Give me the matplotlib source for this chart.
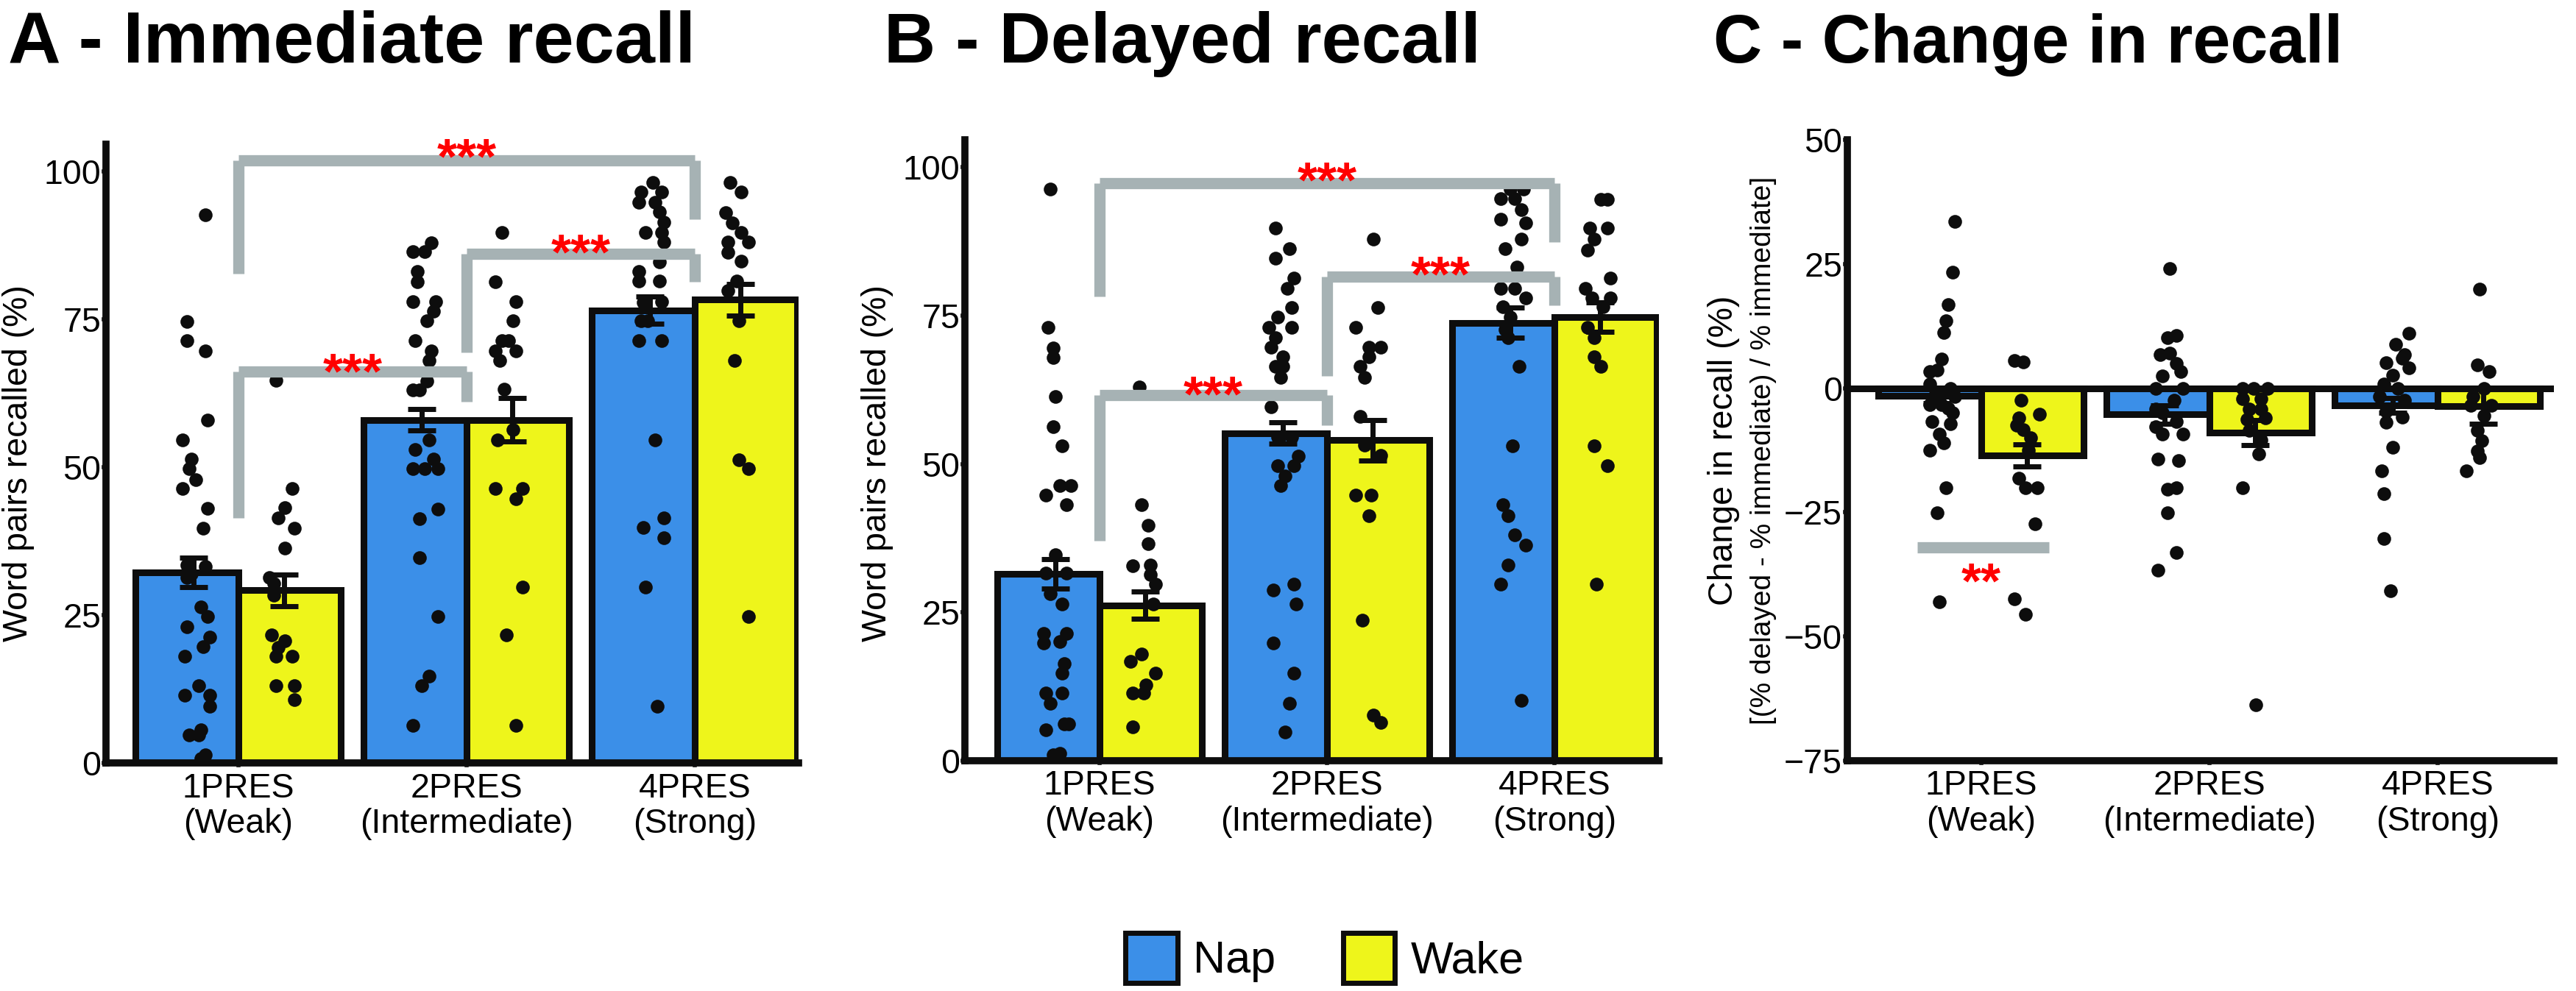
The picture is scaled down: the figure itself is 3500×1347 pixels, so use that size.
import numpy as np
import matplotlib
matplotlib.use('Agg')
import matplotlib.pyplot as plt
from matplotlib.patches import Patch

plt.rcParams['font.family'] = ['Liberation Sans', 'DejaVu Sans']

groups = ['1PRES\n(Weak)', '2PRES\n(Intermediate)', '4PRES\n(Strong)']

# bar heights (mean) and SEM
imm_nap = [32.2, 58.0, 76.5]
imm_nap_se = [2.5, 1.8, 2.3]
imm_wake = [29.2, 58.0, 78.3]
imm_wake_se = [2.7, 3.7, 2.7]

del_nap = [31.5, 55.2, 73.8]
del_nap_se = [2.5, 1.8, 2.6]
del_wake = [26.2, 54.0, 74.7]
del_wake_se = [2.3, 3.4, 2.5]

chg_nap = [-1.5, -5.3, -3.5]
chg_nap_se = [1.5, 1.8, 1.5]
chg_wake = [-13.5, -9.0, -3.6]
chg_wake_se = [2.2, 2.5, 3.6]

# individual subjects (values) and their horizontal jitter
imm_nap_pts = [
    [92.7, 74.6, 71.4, 69.7, 57.9, 54.6, 51.4, 49.7, 47.9, 46.4, 43.0, 39.7, 33.5, 33.2, 32.0, 31.4,
     26.4, 24.8, 23.0, 21.3, 19.7, 18.0, 13.0, 11.4, 11.4, 9.6, 5.6, 4.7, 4.7, 1.4, 0.7],
    [87.9, 86.4, 86.4, 83.1, 81.3, 78.0, 78.0, 76.4, 74.7, 71.4, 69.7, 68.0, 64.6, 63.0, 63.0, 54.6,
     53.0, 51.4, 49.7, 49.7, 49.7, 42.9, 41.3, 34.7, 24.8, 14.7, 13.0, 6.3],
    [98.1, 96.5, 96.5, 94.8, 94.8, 93.2, 91.4, 89.7, 89.7, 88.1, 84.7, 83.1, 81.5, 81.5, 78.0, 77.8,
     74.7, 74.7, 71.4, 71.4, 54.6, 41.4, 39.8, 38.0, 29.7, 9.6],
]
imm_nap_jit = [
    [.08, .00, .00, .08, .09, -.02, .02, .01, .04, -.02, .09, .07, .00, .08, .02, .00,
     .06, .09, .00, .10, .07, -.01, .05, -.01, .10, .10, .06, .01, .05, .08, .06],
    [.07, -.01, .04, .01, .01, -.01, .09, .08, .05, .00, .07, .06, .05, -.01, .02, .06,
     .00, .08, -.01, .04, .10, .10, .02, .02, .10, .06, .03, -.01],
    [.04, -.01, .08, -.02, .05, .07, .09, .01, .08, .09, .07, -.02, .07, -.02, .08, .00,
     -.01, .02, -.02, .08, .05, .09, .00, .09, .01, .06],
]
imm_wake_pts = [
    [64.7, 46.4, 43.1, 41.4, 39.7, 36.3, 31.4, 30.3, 28.3, 21.6, 20.6, 19.5, 18.0, 18.0, 13.0, 13.0, 10.7],
    [89.7, 81.3, 78.0, 74.7, 71.4, 71.4, 69.7, 69.7, 68.0, 63.2, 56.3, 54.6, 46.4, 46.4, 44.7, 29.7, 21.6, 6.3],
    [98.1, 96.5, 93.0, 91.3, 89.7, 88.1, 88.1, 86.3, 84.8, 81.5, 79.9, 74.7, 68.0, 51.3, 49.7, 24.8],
]
imm_wake_jit = [
    [-.06, .01, -.02, -.05, .02, -.02, -.09, -.07, -.07, -.08, -.02, -.05, -.06, .01, -.06, .02, .02],
    [-.07, -.10, -.01, -.02, -.07, -.04, -.10, -.01, -.08, -.06, -.02, -.09, -.10, .02, -.01, .02, -.05, -.01],
    [-.07, -.02, -.09, -.06, -.02, .01, -.08, -.08, -.02, -.04, -.08, -.03, -.05, -.03, .01, .01],
]

del_nap_pts = [
    [96.3, 73.0, 69.5, 67.9, 61.3, 56.3, 53.0, 46.4, 46.4, 44.7, 43.1, 34.7, 31.6, 31.6, 28.1,
     26.4, 21.4, 21.4, 20.1, 19.8, 16.3, 14.7, 11.4, 11.4, 9.7, 6.2, 6.2, 5.2, 1.3, 1.0],
    [89.7, 86.3, 84.7, 81.3, 79.6, 76.3, 74.7, 73.0, 73.0, 71.2, 69.6, 68.0, 66.4, 66.4, 64.6,
     59.6, 54.5, 54.5, 51.3, 49.7, 49.7, 48.0, 46.4, 29.7, 28.7, 26.4, 19.8, 14.7, 9.7, 4.8],
    [96.3, 96.3, 94.7, 94.7, 92.8, 91.2, 90.6, 87.9, 86.3, 83.1, 79.6, 79.6, 78.0, 76.5, 74.7,
     72.6, 71.2, 66.4, 53.0, 43.1, 41.3, 38.1, 36.3, 33.0, 29.7, 10.2],
]
del_nap_jit = [
    [.01, .00, .02, .02, .03, .02, .06, .05, .10, -.01, .08, .03, -.01, .08, .01,
     .06, -.02, .08, .05, -.02, .07, .06, -.01, .06, .01, .09, .07, -.01, .05, .02],
    [.00, .06, .00, .08, .05, .07, .01, -.03, .07, .00, -.02, .03, .00, .03, .02,
     -.02, .01, .07, .10, .01, .08, .04, .02, .08, -.01, .09, -.01, .08, .06, .04],
    [.03, .09, -.01, .05, .08, -.01, .10, .08, .01, .06, -.01, .05, .10, .00, .03,
     .01, .02, .07, .04, .00, .02, .05, .10, .02, -.01, .08],
]
del_wake_pts = [
    [62.9, 43.1, 39.7, 36.5, 33.0, 32.8, 31.4, 29.7, 26.4, 18.0, 16.7, 14.7, 12.8, 11.4, 11.4, 5.7],
    [87.9, 76.3, 73.0, 69.6, 69.6, 68.0, 66.4, 64.6, 58.0, 53.2, 51.4, 44.7, 44.7, 41.3, 23.7, 7.7, 6.4],
    [94.5, 94.5, 89.7, 89.7, 87.9, 86.0, 81.3, 79.6, 78.0, 78.0, 76.5, 73.0, 71.2, 68.0, 66.4, 53.0, 49.7, 29.7],
]
del_wake_jit = [
    [-.05, -.04, -.01, -.01, .00, -.08, .00, .02, .01, -.04, -.09, .02, -.02, -.08, -.03, -.08],
    [-.02, .00, -.10, -.04, .01, -.04, -.08, -.06, -.08, -.06, .01, -.10, -.03, -.04, -.07, -.02, .01],
    [-.02, .01, -.07, .01, -.05, -.08, .02, -.09, -.06, .02, -.01, -.08, -.05, -.05, -.02, -.05, .01, -.04],
]

chg_nap_pts = [
    [33.5, 23.3, 16.8, 13.5, 11.2, 5.8, 3.7, 3.3, 0.8, 0.0, -1.0, -1.7, -1.7, -2.5, -3.3, -3.3,
     -4.0, -5.0, -6.7, -7.1, -9.2, -11.0, -12.5, -20.0, -25.1, -43.0],
    [24.1, 10.6, 10.1, 7.0, 6.8, 5.0, 3.3, 2.5, 0.0, 0.0, -2.5, -4.2, -5.0, -6.7, -7.7, -9.2,
     -9.3, -14.3, -14.6, -20.0, -20.4, -25.1, -33.1, -36.6],
    [11.1, 8.9, 6.8, 6.0, 5.1, 4.1, 2.6, 0.9, 0.0, -1.7, -2.5, -4.6, -5.9, -6.8, -11.9, -16.6,
     -21.2, -30.3, -40.8],
]
chg_nap_jit = [
    [.11, .10, .08, .07, .06, .05, .03, .00, .00, .09, .05, .02, .11, .03, .00, .05,
     .08, .10, .01, .09, .04, .06, .00, .07, .03, .04],
    [.05, .08, .04, .05, .01, .08, .10, .02, -.01, .11, .07, -.01, .02, .08, -.01, .02,
     .11, .00, .09, .08, .04, .04, .08, .00],
    [.10, .04, .08, .07, .00, .10, .03, -.01, .05, -.03, .08, .00, .07, .00, .03, -.02,
     -.01, -.01, .02],
]
chg_wake_pts = [
    [5.6, 5.2, -2.5, -5.3, -6.0, -7.5, -8.3, -10.0, -12.5, -18.1, -20.0, -20.0, -27.3, -42.4, -45.5],
    [0.0, 0.0, 0.0, -2.1, -2.1, -4.2, -4.2, -6.3, -6.0, -8.5, -10.4, -13.3, -20.0, -63.8],
    [20.0, 4.7, 3.3, 0.0, -1.7, -3.4, -3.4, -5.5, -8.5, -10.6, -12.6, -14.0, -16.6],
]
chg_wake_jit = [
    [-.08, -.04, -.05, .03, -.06, -.07, -.04, -.01, -.02, -.06, -.03, .02, .01, -.08, -.03],
    [-.08, -.03, .03, -.08, .00, -.05, .00, -.06, .02, -.05, .00, -.01, -.08, -.02],
    [-.04, -.05, .00, -.02, -.07, -.08, .01, -.02, -.05, -.03, -.05, -.04, -.10],
]

# significance brackets: (x0, x1, y, leg0 bottom, leg1 bottom, star y)
imm_brackets = [(0, 2, 101.9, 82.7, 91.9, 104.7),
                (0, 1, 66.2, 41.4, 61.1, 68.4),
                (1, 2, 86.1, 69.4, 81.3, 88.6)]
del_brackets = [(0, 2, 97.3, 78.2, 87.4, 100.0),
                (0, 1, 61.6, 37.0, 56.5, 63.9),
                (1, 2, 81.6, 64.8, 76.7, 84.1)]

NAP = '#3B8FE8'
WAKE = '#EEF51B'
GREY = '#A6B2B4'
INK = '#0d0d0d'
W = 0.45
FS = 33.5
STAR_FS = 50

W_PX, H_PX = 3500, 1347
fig = plt.figure(figsize=(35, 13.47), dpi=100)


def axes_px(left, right, top, bottom):
    return fig.add_axes([left / W_PX, 1 - bottom / H_PX, (right - left) / W_PX, (bottom - top) / H_PX])


def draw_panel(ax, nap, nap_se, wake, wake_se, nap_pts, nap_jit, wake_pts, wake_jit):
    x = np.arange(len(groups))
    ax.bar(x - W / 2, nap, W, color=NAP, edgecolor=INK, linewidth=6.5, zorder=2)
    ax.bar(x + W / 2, wake, W, color=WAKE, edgecolor=INK, linewidth=6.5, zorder=2)
    for i in range(len(groups)):
        ax.scatter(i - W / 2 + np.array(nap_jit[i]), nap_pts[i], s=180, color=INK,
                   linewidths=0, zorder=3)
        ax.scatter(i + W / 2 + np.array(wake_jit[i]), wake_pts[i], s=180, color=INK,
                   linewidths=0, zorder=3)
    ax.errorbar(x - W / 2 + 0.03, nap, yerr=nap_se, fmt='none', ecolor=INK,
                elinewidth=5, capsize=14, capthick=5, zorder=4)
    ax.errorbar(x + W / 2 - 0.025, wake, yerr=wake_se, fmt='none', ecolor=INK,
                elinewidth=5, capsize=14, capthick=5, zorder=4)

    for s in ['top', 'right']:
        ax.spines[s].set_visible(False)
    for s in ['left', 'bottom']:
        ax.spines[s].set_linewidth(7)
        ax.spines[s].set_color(INK)
    ax.set_xticks(x)
    ax.set_xticklabels(groups, fontsize=FS, linespacing=1.12)
    ax.tick_params(axis='both', length=4, width=4, color='#333333', labelsize=FS)
    ax.tick_params(axis='x', pad=5)
    ax.tick_params(axis='y', pad=1)


def stars(ax, x, y, txt):
    # y is where the centre of the asterisks sits
    ax.annotate(txt, xy=(x, y), xytext=(0, -0.58 * STAR_FS), textcoords='offset points',
                ha='center', va='baseline', color='red', fontsize=STAR_FS,
                fontweight='bold', zorder=6, annotation_clip=False)


def brackets(ax, specs):
    for x0, x1, y, b0, b1, ys in specs:
        kw = dict(color=GREY, lw=11, solid_capstyle='butt', zorder=5)
        ax.plot([x0, x1], [y, y], **kw)
        ax.plot([x0, x0], [y, b0], **kw)
        ax.plot([x1, x1], [y, b1], **kw)
        stars(ax, (x0 + x1) / 2, ys, '***')


# A - immediate recall
axA = axes_px(144, 1085, 196, 1037)
draw_panel(axA, imm_nap, imm_nap_se, imm_wake, imm_wake_se,
           imm_nap_pts, imm_nap_jit, imm_wake_pts, imm_wake_jit)
axA.set_xlim(-0.58, 2.455)
axA.set_ylim(0, 104.6)
axA.set_yticks([0, 25, 50, 75, 100])
brackets(axA, imm_brackets)

# B - delayed recall
axB = axes_px(1311, 2254, 190, 1034)
draw_panel(axB, del_nap, del_nap_se, del_wake, del_wake_se,
           del_nap_pts, del_nap_jit, del_wake_pts, del_wake_jit)
axB.set_xlim(-0.592, 2.46)
axB.set_ylim(0, 104.6)
axB.set_yticks([0, 25, 50, 75, 100])
brackets(axB, del_brackets)

# C - change in recall
axC = axes_px(2510, 3470, 190, 1034)
draw_panel(axC, chg_nap, chg_nap_se, chg_wake, chg_wake_se,
           chg_nap_pts, chg_nap_jit, chg_wake_pts, chg_wake_jit)
axC.axhline(0, color=INK, lw=6.5, zorder=2.5)
axC.set_xlim(-0.587, 2.51)
axC.set_ylim(-75, 50)
axC.set_yticks([-75, -50, -25, 0, 25, 50])
axC.set_yticklabels(['\u221275', '\u221250', '\u221225', '0', '25', '50'])
axC.plot([-0.28, 0.297], [-32.0, -32.0], color=GREY, lw=11, solid_capstyle='butt', zorder=5)
stars(axC, 0, -36.2, '**')

# titles and axis labels
fig.text(11 / W_PX, 1 - 85 / H_PX, 'A - Immediate recall', fontsize=71.5, fontweight='bold',
         ha='left', va='baseline')
fig.text(1201 / W_PX, 1 - 85 / H_PX, 'B - Delayed recall', fontsize=70, fontweight='bold',
         ha='left', va='baseline')
fig.text(2328 / W_PX, 1 - 85 / H_PX, 'C - Change in recall', fontsize=66, fontweight='bold',
         ha='left', va='baseline')

fig.text(25 / W_PX, 1 - 630 / H_PX, 'Word pairs recalled (%)', fontsize=FS, rotation=90,
         ha='center', va='center')
fig.text(1192 / W_PX, 1 - 630 / H_PX, 'Word pairs recalled (%)', fontsize=FS, rotation=90,
         ha='center', va='center')
fig.text(2342 / W_PX, 1 - 612 / H_PX, 'Change in recall (%)', fontsize=FS, rotation=90,
         ha='center', va='center')
fig.text(2396 / W_PX, 1 - 612 / H_PX, '[(% delayed - % immediate) / % immediate]', fontsize=28,
         rotation=90, ha='center', va='center')

handles = [Patch(facecolor=NAP, edgecolor=INK, linewidth=5, label='Nap'),
           Patch(facecolor=WAKE, edgecolor=INK, linewidth=5, label='Wake')]
fig.legend(handles=handles, loc='center', bbox_to_anchor=(1800 / W_PX, 1 - 1302 / H_PX),
           ncol=2, frameon=False, fontsize=44, handlelength=1.15, handleheight=1.35,
           handletextpad=0.35, columnspacing=1.5)

fig.savefig('out.png', dpi=100)
